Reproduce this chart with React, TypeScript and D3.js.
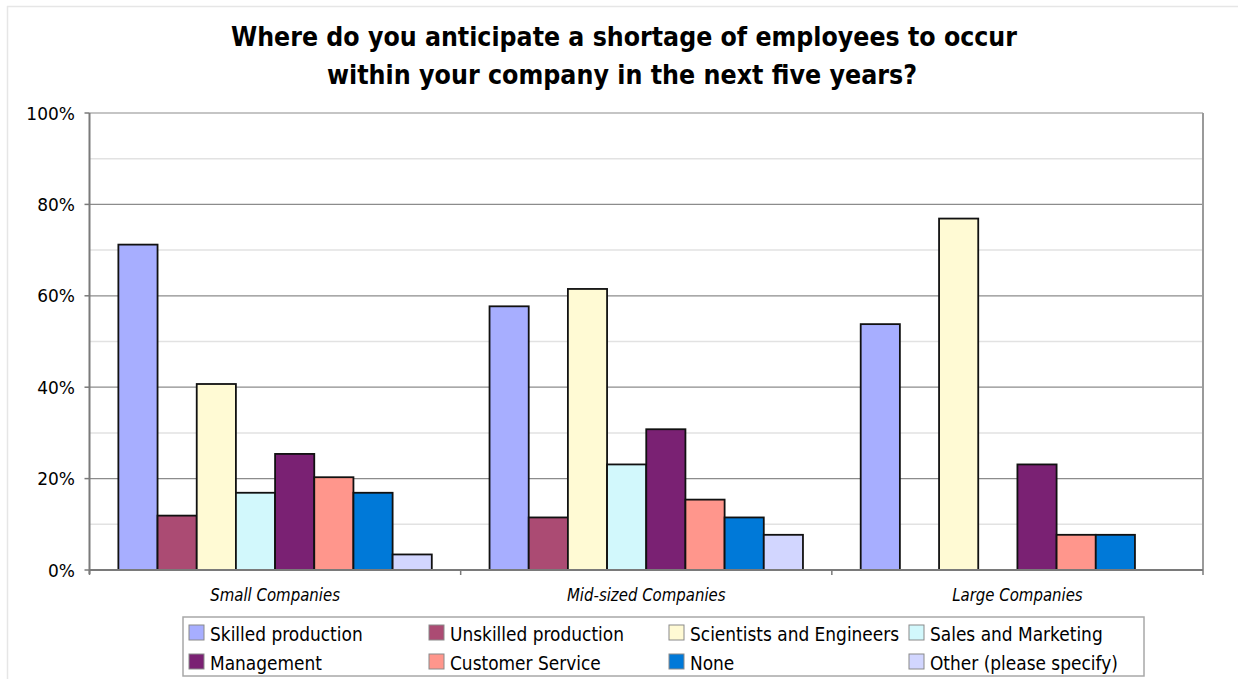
import React from "react";
import * as d3 from "d3";

// Company size groups along the x axis
const categories = ["Small Companies", "Mid-sized Companies", "Large Companies"];

// Employee groups (one bar per group within each company size)
const seriesNames = [
  "Skilled production",
  "Unskilled production",
  "Scientists and Engineers",
  "Sales and Marketing",
  "Management",
  "Customer Service",
  "None",
  "Other (please specify)",
];

const seriesColors = [
  "#a7aeff",
  "#ab4b73",
  "#fffad4",
  "#d2f8fc",
  "#7a2173",
  "#ff968c",
  "#0079d8",
  "#d2d6ff",
];

// Share of respondents per employee group, in category order
const skilledProduction = [0.712, 0.577, 0.538];
const unskilledProduction = [0.119, 0.115, 0];
const scientistsEngineers = [0.407, 0.615, 0.769];
const salesMarketing = [0.169, 0.231, 0];
const management = [0.254, 0.308, 0.231];
const customerService = [0.203, 0.154, 0.077];
const noneValues = [0.169, 0.115, 0.077];
const otherValues = [0.034, 0.077, 0];

const seriesValues = [
  skilledProduction,
  unskilledProduction,
  scientistsEngineers,
  salesMarketing,
  management,
  customerService,
  noneValues,
  otherValues,
];

const majorTicks = [0, 0.2, 0.4, 0.6, 0.8, 1.0];
const minorTicks = [0.1, 0.3, 0.5, 0.7, 0.9];

const titleLines = [
  "Where do you anticipate a shortage of employees to occur",
  "within your company in the next five years?",
];

const W = 1238;
const H = 679;
const FONT = "'DejaVu Sans', Verdana, sans-serif";

export default function App() {
  const plot = { left: 89.5, right: 1203, top: 113, bottom: 570 };

  const y = d3.scaleLinear().domain([0, 1]).range([plot.bottom, plot.top]);
  const x0 = d3
    .scaleBand<string>()
    .domain(categories)
    .range([plot.left, plot.right])
    .paddingInner(0)
    .paddingOuter(0);
  const x1 = d3
    .scaleBand<string>()
    .domain(seriesNames)
    .range([0, x0.bandwidth()])
    .paddingInner(0)
    .paddingOuter(0.737);
  const pct = d3.format(".0%");

  const legendCols = [189, 429, 669, 909];
  const legendRows = [625, 654];

  return (
    <div style={{ position: "absolute", left: 0, top: 0 }}>
      <svg width={W} height={H} style={{ display: "block", background: "#fff" }}>
        {/* chart area frame */}
        <line x1={7} y1={6.5} x2={W} y2={6.5} stroke="#e6e6e6" strokeWidth={1.5} />
        <line x1={7.5} y1={6} x2={7.5} y2={H} stroke="#e6e6e6" strokeWidth={1.5} />

        {/* title */}
        {titleLines.map((t, i) => (
          <text
            key={t}
            x={i === 0 ? 231 : 327}
            y={i === 0 ? 46 : 84}
            fontFamily={FONT}
            fontWeight="bold"
            fontSize={27}
            textLength={i === 0 ? 786 : 590}
            lengthAdjust="spacingAndGlyphs"
            fill="#000"
          >
            {t}
          </text>
        ))}

        {/* minor gridlines */}
        {minorTicks.map((t) => (
          <line
            key={"mn" + t}
            x1={plot.left}
            x2={plot.right}
            y1={y(t)}
            y2={y(t)}
            stroke="#e2e2e2"
            strokeWidth={1.5}
          />
        ))}
        {/* major gridlines */}
        {majorTicks.map((t) => (
          <line
            key={"mj" + t}
            x1={plot.left}
            x2={plot.right}
            y1={y(t)}
            y2={y(t)}
            stroke="#8c8c8c"
            strokeWidth={1.2}
          />
        ))}
        {/* right border */}
        <line x1={plot.right} x2={plot.right} y1={plot.top} y2={plot.bottom} stroke="#9a9a9a" strokeWidth={2} />

        {/* bars */}
        {seriesNames.map((s, si) =>
          categories.map((c, ci) => {
            const v = seriesValues[si][ci];
            if (v <= 0) return null;
            const bx = (x0(c) as number) + (x1(s) as number);
            return (
              <rect
                key={s + c}
                x={bx}
                y={y(v)}
                width={x1.bandwidth()}
                height={y(0) - y(v)}
                fill={seriesColors[si]}
                stroke="#111"
                strokeWidth={1.8}
              />
            );
          })
        )}

        {/* y axis */}
        <line x1={plot.left} x2={plot.left} y1={plot.top} y2={plot.bottom + 4} stroke="#7a7a7a" strokeWidth={2} />
        {majorTicks.map((t) => (
          <g key={"yt" + t}>
            <line x1={plot.left - 5} x2={plot.left} y1={y(t)} y2={y(t)} stroke="#7a7a7a" strokeWidth={1.5} />
            <g transform={`translate(75,${y(t) + 6.5}) scale(0.92,1)`}>
              <text textAnchor="end" fontFamily={FONT} fontSize={18.5} fill="#000">
                {pct(t)}
              </text>
            </g>
          </g>
        ))}

        {/* x axis */}
        <line x1={plot.left} x2={plot.right} y1={plot.bottom} y2={plot.bottom} stroke="#7a7a7a" strokeWidth={2} />
        {categories.map((c) => (
          <line
            key={"xt" + c}
            x1={x0(c) as number}
            x2={x0(c) as number}
            y1={plot.bottom}
            y2={plot.bottom + 5}
            stroke="#7a7a7a"
            strokeWidth={1.5}
          />
        ))}
        <line x1={plot.right} x2={plot.right} y1={plot.bottom} y2={plot.bottom + 5} stroke="#7a7a7a" strokeWidth={1.5} />
        {categories.map((c) => (
          <g key={"xl" + c} transform={`translate(${(x0(c) as number) + x0.bandwidth() / 2},601) scale(0.88,1)`}>
            <text textAnchor="middle" fontFamily={FONT} fontStyle="italic" fontSize={17} fill="#000">
              {c}
            </text>
          </g>
        ))}

        {/* legend */}
        <rect x={183} y={617} width={961} height={59} fill="#fff" stroke="#a8a8a8" strokeWidth={1.5} />
        {seriesNames.map((s, i) => {
          const lx = legendCols[i % 4];
          const ly = legendRows[Math.floor(i / 4)];
          return (
            <g key={"lg" + s}>
              <rect x={lx} y={ly} width={15} height={15} fill={seriesColors[i]} stroke="#8a8a8a" strokeWidth={1} />
              <g transform={`translate(${lx + 21},${ly + 15.5}) scale(0.895,1)`}>
                <text fontFamily={FONT} fontSize={19} fill="#000">
                  {s}
                </text>
              </g>
            </g>
          );
        })}
      </svg>
    </div>
  );
}
